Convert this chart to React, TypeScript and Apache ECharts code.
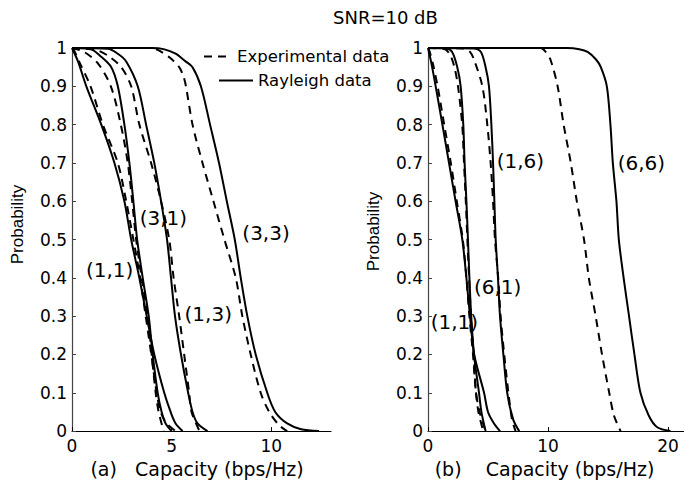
import React, { useEffect, useRef } from 'react';
import * as echarts from 'echarts';

// ---- data (x = capacity in bps/Hz, y = probability) ----
const xTicksA = [0, 5, 10];
const xTicksB = [0, 10, 20];

// (a) panel
const a11Ray = [[0, 1], [0.3, 0.965], [0.72, 0.9], [1.47, 0.8], [2.13, 0.7], [2.63, 0.6], [2.97, 0.5], [3.38, 0.4], [3.75, 0.3], [4.13, 0.2], [4.63, 0.1], [4.95, 0.05], [5.2, 0.02], [5.55, 0]];
const a11Exp = [[0.05, 1], [0.4, 0.96], [0.93, 0.9], [1.55, 0.8], [2.3, 0.7], [2.72, 0.6], [3.08, 0.5], [3.42, 0.4], [3.7, 0.3], [3.98, 0.2], [4.25, 0.1], [4.45, 0.05], [4.75, 0.02], [5.2, 0]];
const a31Ray = [[0, 1], [0.9, 0.998], [1.4, 0.98], [1.97, 0.95], [2.3, 0.9], [2.63, 0.8], [2.88, 0.7], [3.08, 0.6], [3.27, 0.5], [3.55, 0.4], [3.85, 0.3], [4.05, 0.2], [4.3, 0.1], [4.5, 0.05], [4.7, 0.02], [5.0, 0]];
const a31Exp = [[0, 1], [0.6, 0.99], [1.3, 0.96], [1.95, 0.9], [2.45, 0.8], [2.8, 0.7], [3.02, 0.6], [3.22, 0.5], [3.5, 0.4], [3.8, 0.3], [4.0, 0.2], [4.2, 0.1], [4.35, 0.05], [4.6, 0]];
const a13Ray = [[0, 1], [1.8, 0.998], [2.3, 0.985], [2.72, 0.965], [3.3, 0.9], [3.72, 0.8], [4.13, 0.7], [4.47, 0.6], [4.77, 0.5], [4.97, 0.4], [5.17, 0.3], [5.47, 0.2], [5.83, 0.1], [6.05, 0.05], [6.3, 0.02], [6.8, 0]];
const a13Exp = [[0, 1], [1.2, 0.995], [1.8, 0.98], [2.47, 0.95], [2.97, 0.9], [3.38, 0.8], [3.97, 0.7], [4.47, 0.6], [4.88, 0.5], [5.1, 0.4], [5.38, 0.3], [5.63, 0.2], [5.88, 0.1], [6.0, 0.05], [6.4, 0]];
const a33Ray = [[0, 1], [4.0, 1], [4.6, 0.997], [5.2, 0.985], [5.7, 0.965], [6.05, 0.95], [6.47, 0.9], [6.93, 0.8], [7.38, 0.7], [7.77, 0.6], [8.17, 0.5], [8.47, 0.4], [8.8, 0.3], [9.22, 0.2], [9.8, 0.1], [10.2, 0.05], [10.8, 0.02], [11.5, 0.005], [12.4, 0]];
const a33Exp = [[0, 1], [3.8, 1], [4.3, 0.995], [4.9, 0.975], [5.38, 0.95], [5.6, 0.925], [5.72, 0.9], [6.05, 0.8], [6.55, 0.7], [7.1, 0.6], [7.65, 0.5], [8.22, 0.4], [8.55, 0.3], [8.97, 0.2], [9.47, 0.1], [9.9, 0.05], [10.4, 0.015], [10.8, 0]];

// (b) panel
const b11Ray = [[0, 1], [0.25, 0.965], [0.64, 0.9], [1.2, 0.8], [1.75, 0.7], [2.3, 0.6], [2.86, 0.5], [3.2, 0.4], [3.5, 0.3], [3.85, 0.2], [4.67, 0.1], [5.0, 0.05], [5.5, 0.02], [6.0, 0]];
const b11Exp = [[0.05, 1], [0.4, 0.96], [0.8, 0.9], [1.35, 0.8], [1.9, 0.7], [2.4, 0.6], [2.9, 0.5], [3.2, 0.4], [3.45, 0.3], [3.75, 0.2], [4.0, 0.1], [4.3, 0.05], [4.8, 0]];
const b61Ray = [[0, 1], [1.5, 0.999], [2.0, 0.99], [2.44, 0.95], [2.72, 0.9], [2.94, 0.8], [3.05, 0.7], [3.2, 0.6], [3.33, 0.5], [3.45, 0.4], [3.6, 0.3], [3.83, 0.2], [4.25, 0.1], [4.45, 0.05], [4.8, 0]];
const b61Exp = [[0, 1], [1.3, 0.998], [1.8, 0.985], [2.2, 0.95], [2.5, 0.9], [2.85, 0.8], [3.0, 0.7], [3.15, 0.6], [3.28, 0.5], [3.42, 0.4], [3.58, 0.3], [3.8, 0.2], [4.0, 0.1], [4.2, 0.05], [4.6, 0]];
const b16Ray = [[0, 1], [3.8, 0.999], [4.4, 0.99], [4.8, 0.95], [5.08, 0.9], [5.28, 0.8], [5.42, 0.7], [5.53, 0.6], [5.64, 0.5], [5.83, 0.4], [6.0, 0.3], [6.28, 0.2], [6.6, 0.1], [7.1, 0.03], [7.6, 0]];
const b16Exp = [[0, 1], [3.0, 0.999], [3.5, 0.99], [3.83, 0.97], [4.53, 0.9], [4.94, 0.8], [5.22, 0.7], [5.42, 0.6], [5.58, 0.5], [5.85, 0.4], [6.05, 0.3], [6.35, 0.2], [6.7, 0.1], [7.0, 0.03], [7.3, 0]];
const b66Ray = [[0, 1], [11.6, 1], [12.6, 0.997], [13.3, 0.99], [14.0, 0.97], [14.4, 0.95], [14.9, 0.9], [15.2, 0.8], [15.4, 0.7], [15.7, 0.6], [15.9, 0.5], [16.3, 0.4], [16.75, 0.3], [17.2, 0.2], [17.7, 0.1], [18.4, 0.04], [19.1, 0.01], [20.2, 0]];
const b66Exp = [[0, 1], [9.4, 1], [9.8, 0.99], [10.2, 0.97], [10.8, 0.9], [11.3, 0.8], [11.9, 0.7], [12.4, 0.6], [13.0, 0.5], [13.4, 0.4], [13.97, 0.3], [14.5, 0.2], [15.1, 0.1], [15.5, 0.04], [16.05, 0]];

// curve annotations: [x, probability, text]
const labelsA = [[3.4, 0.557, '(3,1)'], [8.55, 0.518, '(3,3)'], [0.7, 0.42, '(1,1)'], [5.65, 0.305, '(1,3)']];
const labelsB = [[5.72, 0.704, '(1,6)'], [15.8, 0.7, '(6,6)'], [3.83, 0.376, '(6,1)'], [0.22, 0.285, '(1,1)']];

const EXP = 'Experimental data';
const RAY = 'Rayleigh data';
const FONT = 'DejaVu Sans';

export default function App() {
  const ref = useRef<HTMLDivElement>(null);
  useEffect(() => {
    if (!ref.current) return;
    const chart = echarts.init(ref.current, null, { renderer: 'svg' });

    const line = (name: string, data: number[][], dashed: boolean, idx: number) => ({
      type: 'line',
      name,
      data,
      xAxisIndex: idx,
      yAxisIndex: idx,
      showSymbol: false,
      symbol: 'none',
      smooth: 0.3,
      silent: true,
      lineStyle: { color: '#000', width: 2, type: dashed ? [8, 6] : 'solid' },
      itemStyle: { color: '#000' },
      emphasis: { disabled: true },
      z: dashed ? 3 : 2,
    });

    const labels = (data: any[], idx: number) => ({
      type: 'scatter',
      data,
      xAxisIndex: idx,
      yAxisIndex: idx,
      symbolSize: 0,
      silent: true,
      z: 5,
      itemStyle: { color: '#000', opacity: 1 },
      label: {
        show: true,
        position: 'right',
        distance: 0,
        formatter: (p: any) => p.value[2],
        fontFamily: FONT,
        fontSize: 20,
        color: '#000',
        opacity: 1,
      },
    });

    const xAxisBase = (gi: number, max: number, interval: number, ticks: number[], nm: string, pad: number[]) => ({
      type: 'value',
      gridIndex: gi,
      min: 0,
      max,
      interval,
      name: nm,
      nameLocation: 'middle',
      nameGap: 23,
      nameTextStyle: { fontFamily: FONT, fontSize: 19, color: '#000', padding: pad },
      axisLine: { show: true, lineStyle: { color: '#000', width: 1.2 } },
      axisTick: { show: true, inside: true, length: 4, customValues: ticks, lineStyle: { color: '#000' } },
      axisLabel: {
        customValues: ticks,
        margin: 6,
        fontFamily: FONT,
        fontSize: 17,
        color: '#000',
        formatter: (v: number) => (ticks.indexOf(v) >= 0 ? String(v) : ''),
      },
      splitLine: { show: false },
    });

    const yAxisBase = (gi: number, pad: number[]) => ({
      type: 'value',
      gridIndex: gi,
      min: 0,
      max: 1,
      interval: 0.1,
      name: 'Probability',
      nameLocation: 'middle',
      nameRotate: 90,
      nameGap: 46,
      nameTextStyle: { fontFamily: 'Liberation Sans', fontSize: 17, color: '#000', padding: pad },
      axisLine: { show: true, lineStyle: { color: '#444', width: 1.2 } },
      axisTick: { show: true, inside: true, length: 4, lineStyle: { color: '#444' } },
      axisLabel: { margin: 5, fontFamily: FONT, fontSize: 17, color: '#000' },
      splitLine: { show: false },
    });

    const legendText = { fontFamily: FONT, fontSize: 16.5, color: '#000' };

    chart.setOption({
      animation: false,
      backgroundColor: '#fff',
      title: {
        text: 'SNR=10 dB',
        left: 333,
        top: 8,
        padding: 0,
        textStyle: { fontFamily: FONT, fontSize: 18, fontWeight: 'normal', color: '#000' },
      },
      legend: [
        { data: [EXP], left: 203, top: 48, padding: 0, itemWidth: 28, itemHeight: 14, selectedMode: false, itemStyle: { opacity: 0 }, textStyle: legendText },
        { data: [RAY], left: 218, top: 72, padding: 0, itemWidth: 34, itemHeight: 14, selectedMode: false, itemStyle: { opacity: 0 }, textStyle: legendText },
      ],
      grid: [
        { left: 72, top: 48, width: 259, height: 384 },
        { left: 428, top: 48, width: 256, height: 384 },
      ],
      xAxis: [
        xAxisBase(0, 13, 5, xTicksA, '(a)\u00a0\u00a0\u00a0Capacity (bps/Hz)', [0, 9, 0, 0]),
        xAxisBase(1, 21.33, 10, xTicksB, '(b)\u00a0\u00a0\u00a0\u00a0Capacity (bps/Hz)', [0, 23, 0, 0]),
      ],
      yAxis: [yAxisBase(0, [0, 0, 0, 30]), yAxisBase(1, [0, 0, 0, 16])],
      series: [
        line(EXP, a11Exp, true, 0),
        line(RAY, a11Ray, false, 0),
        line(EXP, a31Exp, true, 0),
        line(RAY, a31Ray, false, 0),
        line(EXP, a13Exp, true, 0),
        line(RAY, a13Ray, false, 0),
        line(EXP, a33Exp, true, 0),
        line(RAY, a33Ray, false, 0),
        line(EXP, b11Exp, true, 1),
        line(RAY, b11Ray, false, 1),
        line(EXP, b61Exp, true, 1),
        line(RAY, b61Ray, false, 1),
        line(EXP, b16Exp, true, 1),
        line(RAY, b16Ray, false, 1),
        line(EXP, b66Exp, true, 1),
        line(RAY, b66Ray, false, 1),
        labels(labelsA, 0),
        labels(labelsB, 1),
      ],
    });
    return () => chart.dispose();
  }, []);

  return <div ref={ref} style={{ position: 'fixed', left: 0, top: 0, width: 684, height: 483, background: '#fff' }} />;
}
